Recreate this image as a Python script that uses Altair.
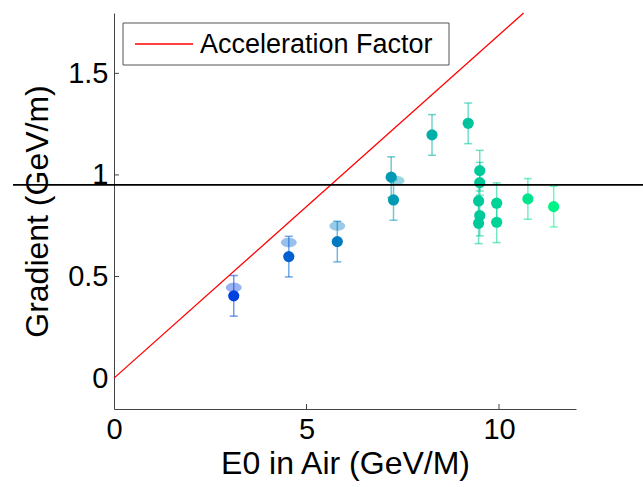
import altair as alt
import pandas as pd

# ---- data ----
x_vals = [3.11, 4.54, 5.80, 7.20, 7.26, 8.26, 9.20, 9.50, 9.50, 9.47, 9.50, 9.47, 9.94, 9.94, 10.75, 11.42]
y_vals = [0.405, 0.598, 0.672, 0.989, 0.877, 1.197, 1.254, 1.021, 0.962, 0.872, 0.800, 0.762, 0.861, 0.767, 0.882, 0.844]
err_vals = [0.10, 0.10, 0.10, 0.10, 0.10, 0.10, 0.10, 0.10, 0.10, 0.10, 0.10, 0.10, 0.10, 0.10, 0.10, 0.10]
light_x = [3.11, 4.54, 5.80, 7.34]
light_y = [0.446, 0.667, 0.749, 0.972]
line_x = [0.0, 10.64]
line_y = [0.0, 1.797]
ref_y = [0.951]
x_ticks = [0, 5, 10]
y_ticks = [0, 0.5, 1, 1.5]
legend_label = ["Acceleration Factor"]

pts = pd.DataFrame({"x": x_vals, "y": y_vals, "err": err_vals})
pts["lo"] = pts["y"] - pts["err"]
pts["hi"] = pts["y"] + pts["err"]
light = pd.DataFrame({"x": light_x, "y": light_y})
line = pd.DataFrame({"x": line_x, "y": line_y})
ref = pd.DataFrame({"y": ref_y})
xt = pd.DataFrame({"x": x_ticks[1:]})
yt = pd.DataFrame({"y": y_ticks[1:]})
leg = pd.DataFrame({"label": legend_label})

FONT = "Liberation Sans"
xscale = alt.Scale(domain=[0, 12], nice=False, zero=False)
yscale = alt.Scale(domain=[-0.152, 1.797], nice=False, zero=False)
cscale = alt.Scale(domain=[0, 12], range=["#0000ff", "#00ff80"], interpolate="rgb")

X = alt.X("x:Q", scale=xscale,
          axis=alt.Axis(values=x_ticks, title="E0 in Air (GeV/M)", format="~g"))
Y = alt.Y("y:Q", scale=yscale,
          axis=alt.Axis(values=y_ticks, title="Gradient (GeV/m)", format="~g"))
C = alt.Color("x:Q", scale=cscale, legend=None)

base = alt.Chart(pts)

redline = alt.Chart(line).mark_line(color="#ff0000", strokeWidth=1.3).encode(x=X, y=Y)

bars = base.mark_rule(strokeWidth=1.5, opacity=0.55).encode(
    x=alt.X("x:Q", scale=xscale), y=alt.Y("lo:Q", scale=yscale), y2="hi:Q", color=C)
cap_lo = base.mark_tick(orient="horizontal", size=8, thickness=1.5, opacity=0.55).encode(
    x=alt.X("x:Q", scale=xscale), y=alt.Y("lo:Q", scale=yscale), color=C)
cap_hi = base.mark_tick(orient="horizontal", size=8, thickness=1.5, opacity=0.55).encode(
    x=alt.X("x:Q", scale=xscale), y=alt.Y("hi:Q", scale=yscale), color=C)

ellipse = "M -1 0 A 1 0.6 0 1 0 1 0 A 1 0.6 0 1 0 -1 0 Z"
ghosts = alt.Chart(light).mark_point(shape=ellipse, filled=True, size=250, opacity=0.4,
                                     strokeWidth=0).encode(
    x=alt.X("x:Q", scale=xscale), y=alt.Y("y:Q", scale=yscale), color=C)

dots = base.mark_circle(size=125, opacity=1).encode(
    x=alt.X("x:Q", scale=xscale), y=alt.Y("y:Q", scale=yscale), color=C)

hline = alt.Chart(ref).mark_rule(color="black", strokeWidth=1.6).encode(
    y=alt.Y("y:Q", scale=yscale), x=alt.value(-101), x2=alt.value(529))

xtick_in = alt.Chart(xt).mark_rule(color="#444444", strokeWidth=1).encode(
    x=alt.X("x:Q", scale=xscale), y=alt.value(396), y2=alt.value(391))
ytick_in = alt.Chart(yt).mark_rule(color="#444444", strokeWidth=1).encode(
    y=alt.Y("y:Q", scale=yscale), x=alt.value(0), x2=alt.value(5))

leg_box = alt.Chart(leg).mark_rect(fill="white", stroke="#555555", strokeWidth=1).encode(
    x=alt.value(9), x2=alt.value(335), y=alt.value(10), y2=alt.value(52))
leg_line = alt.Chart(leg).mark_rule(color="#ff0000", strokeWidth=1.3).encode(
    x=alt.value(21), x2=alt.value(79), y=alt.value(31))
leg_text = alt.Chart(leg).mark_text(align="left", baseline="middle", font=FONT,
                                    fontSize=27, color="black").encode(
    x=alt.value(86), y=alt.value(32), text="label:N")

chart = alt.layer(
    redline, bars, cap_lo, cap_hi, ghosts, dots, hline, xtick_in, ytick_in,
    leg_box, leg_line, leg_text
).properties(
    width=462, height=396,
    autosize=alt.AutoSizeParams(type="none"),
    padding={"left": 114, "top": 13, "right": 67, "bottom": 78},
).configure_view(stroke=None).configure_axis(
    grid=False, ticks=False, domainColor="#444444", domainWidth=1, labelFlush=False,
    labelFont=FONT, labelFontSize=29, labelColor="black",
    titleFont=FONT, titleFontSize=32, titleColor="black", titleFontWeight="normal",
).configure_axisX(labelPadding=6, titlePadding=4).configure_axisY(labelPadding=6, titlePadding=13)

chart.save("out.html", embed_options={"renderer": "svg", "actions": False})
